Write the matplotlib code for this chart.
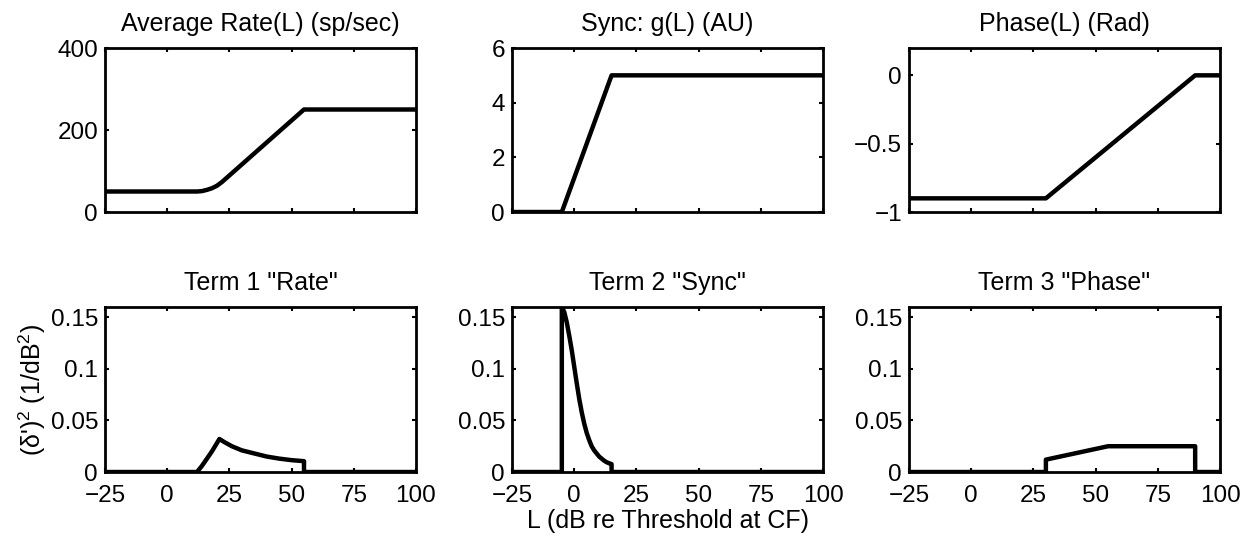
import matplotlib
matplotlib.use("Agg")
import matplotlib.pyplot as plt

# level axis (dB re threshold at CF)
x_ticks = [-25, 0, 25, 50, 75, 100]
x_ticklabels = ["\u221225", "0", "25", "50", "75", "100"]

# top row: the three response functions
rate_L = [-25, 10, 12, 14, 16, 18, 20, 22, 55, 100]
rate_val = [50, 50, 50, 51, 54, 58, 64, 73, 250, 250]

sync_L = [-25, -5, 15, 100]
sync_val = [0, 0, 5, 5]

phase_L = [-25, 30, 90, 100]
phase_val = [-0.9, -0.9, 0, 0]

# bottom row: the three terms
term1_L = [-25, 12, 14, 16, 18, 20, 21, 23, 26, 30, 35, 40, 45, 50, 55, 55, 100]
term1_val = [0, 0, 0.006, 0.013, 0.020, 0.028, 0.032, 0.029, 0.025, 0.021,
             0.018, 0.015, 0.013, 0.0115, 0.0105, 0, 0]

term2_L = [-25, -5, -5, -4, -3, -2, -1, 0, 1, 2, 3, 4, 5, 6, 7, 8, 9, 10,
           11, 12, 13, 14, 15, 15, 100]
term2_val = [0, 0, 0.16, 0.155, 0.145, 0.132, 0.118, 0.102, 0.086, 0.071,
             0.058, 0.047, 0.038, 0.031, 0.025, 0.021, 0.018, 0.015, 0.013,
             0.011, 0.0095, 0.0085, 0.0077, 0, 0]

term3_L = [-25, 30, 30, 55, 90, 90, 100]
term3_val = [0, 0, 0.012, 0.025, 0.025, 0, 0]

titles = ["Average Rate(L) (sp/sec)", "Sync: g(L) (AU)", "Phase(L) (Rad)",
          'Term 1 "Rate"', 'Term 2 "Sync"', 'Term 3 "Phase"']

top_yticks = [[0, 200, 400], [0, 2, 4, 6], [-1, -0.5, 0]]
top_ylabels = [["0", "200", "400"], ["0", "2", "4", "6"], ["\u22121", "\u22120.5", "0"]]
top_ylims = [(0, 400), (0, 6), (-1, 0.2)]

term_yticks = [0, 0.05, 0.1, 0.15]
term_ylabels = ["0", "0.05", "0.1", "0.15"]

plt.rcParams["font.family"] = ["Liberation Sans", "DejaVu Sans"]
plt.rcParams["mathtext.fontset"] = "custom"
plt.rcParams["mathtext.rm"] = "Liberation Sans"
plt.rcParams["mathtext.it"] = "Liberation Sans"
FS = 18

fig = plt.figure(figsize=(12.48, 5.4), dpi=100)

lefts = [0.0841, 0.4103, 0.7284]
width = 0.2492
top_row = [fig.add_axes([l, 0.6074, width, 0.3037]) for l in lefts]
bot_row = [fig.add_axes([l, 0.1259, width, 0.3056]) for l in lefts]

top_data = [(rate_L, rate_val), (sync_L, sync_val), (phase_L, phase_val)]
bot_data = [(term1_L, term1_val), (term2_L, term2_val), (term3_L, term3_val)]

for i, ax in enumerate(top_row):
    xs, ys = top_data[i]
    ax.plot(xs, ys, color="black", lw=3.2, solid_joinstyle="round")
    ax.set_ylim(*top_ylims[i])
    ax.set_yticks(top_yticks[i])
    ax.set_yticklabels(top_ylabels[i])
    ax.set_title(titles[i], fontsize=FS, pad=12)

for i, ax in enumerate(bot_row):
    xs, ys = bot_data[i]
    ax.plot(xs, ys, color="black", lw=3.2, solid_joinstyle="round")
    ax.set_ylim(0, 0.16)
    ax.set_yticks(term_yticks)
    ax.set_yticklabels(term_ylabels)
    ax.set_title(titles[i + 3], fontsize=FS, pad=12)

for ax in top_row + bot_row:
    ax.set_xlim(-25, 100)
    ax.set_xticks(x_ticks)
    ax.set_xticklabels(x_ticklabels if ax in bot_row else [])
    ax.tick_params(direction="in", length=3, width=1.5, top=True, right=True,
                   labelsize=FS - 0.5)
    ax.tick_params(axis="y", pad=5)
    ax.tick_params(axis="x", pad=9)
    for sp in ax.spines.values():
        sp.set_linewidth(2)

bot_row[0].set_ylabel("(\u03b4')$^2$ (1/dB$^2$)", fontsize=FS, labelpad=2)
bot_row[1].set_xlabel("L (dB re Threshold at CF)", fontsize=FS, labelpad=2)

fig.savefig("out.png", dpi=100)
